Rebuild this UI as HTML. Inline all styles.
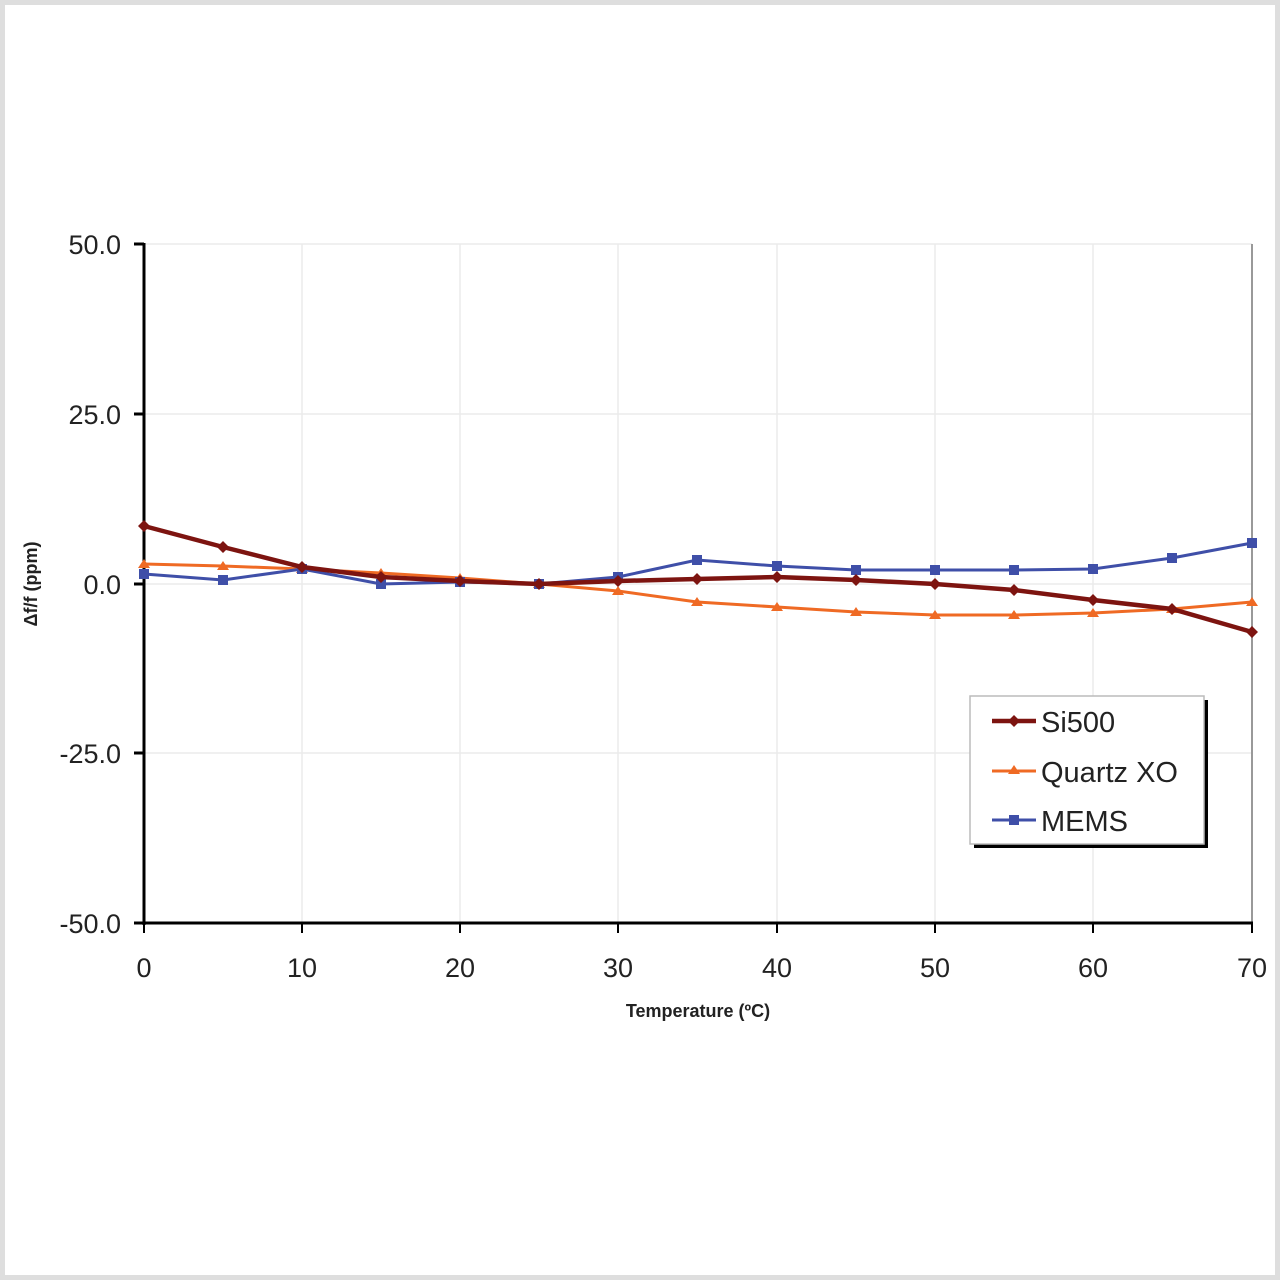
<!DOCTYPE html>
<html><head><meta charset="utf-8"><style>
html,body{margin:0;padding:0;background:#fff}
svg{display:block}
text{font-family:"Liberation Sans",Arial,sans-serif;fill:#222}
</style></head><body>
<svg width="1280" height="1280" viewBox="0 0 1280 1280" xmlns="http://www.w3.org/2000/svg">
<rect x="2.5" y="2.5" width="1275" height="1275" fill="#fff" stroke="#dedede" stroke-width="5"/>
<g stroke="#ebebeb" stroke-width="1.5">
<line x1="302" y1="244" x2="302" y2="923"/><line x1="460" y1="244" x2="460" y2="923"/>
<line x1="618" y1="244" x2="618" y2="923"/><line x1="777" y1="244" x2="777" y2="923"/>
<line x1="935" y1="244" x2="935" y2="923"/><line x1="1093" y1="244" x2="1093" y2="923"/>
<line x1="144" y1="244" x2="1252" y2="244"/><line x1="144" y1="414" x2="1252" y2="414"/>
<line x1="144" y1="584" x2="1252" y2="584"/><line x1="144" y1="753" x2="1252" y2="753"/>
</g>
<line x1="1252" y1="244" x2="1252" y2="923" stroke="#999" stroke-width="2"/>
<g stroke="#000" stroke-width="3">
<line x1="144" y1="243" x2="144" y2="925"/><line x1="143" y1="923" x2="1253" y2="923"/>
<line x1="134" y1="244" x2="144" y2="244"/><line x1="134" y1="414" x2="144" y2="414"/>
<line x1="134" y1="584" x2="144" y2="584"/><line x1="134" y1="753" x2="144" y2="753"/>
<line x1="134" y1="923" x2="144" y2="923"/>
</g>
<g stroke="#000" stroke-width="2">
<line x1="302" y1="923" x2="302" y2="933"/><line x1="460" y1="923" x2="460" y2="933"/><line x1="618" y1="923" x2="618" y2="933"/><line x1="777" y1="923" x2="777" y2="933"/><line x1="935" y1="923" x2="935" y2="933"/><line x1="1093" y1="923" x2="1093" y2="933"/><line x1="1252" y1="923" x2="1252" y2="933"/><line x1="144" y1="923" x2="144" y2="933"/>
</g>
<g font-size="27" text-anchor="end">
<text x="121" y="254">50.0</text><text x="121" y="424">25.0</text><text x="121" y="594">0.0</text><text x="121" y="763">-25.0</text><text x="121" y="933">-50.0</text>
</g>
<g font-size="27" text-anchor="middle">
<text x="144" y="977">0</text><text x="302" y="977">10</text><text x="460" y="977">20</text><text x="618" y="977">30</text><text x="777" y="977">40</text><text x="935" y="977">50</text><text x="1093" y="977">60</text><text x="1252" y="977">70</text>
</g>
<text x="698" y="1017" font-size="18" font-weight="bold" text-anchor="middle">Temperature (ºC)</text>
<text transform="translate(37,584) rotate(-90)" font-size="18" font-weight="bold" text-anchor="middle">Δf/f (ppm)</text>
<polyline fill="none" stroke="#ef6a24" stroke-width="3" points="144,564 223,566 302,569 381,573 460,578 539,584 618,591 697,602 777,607 856,612 935,615 1014,615 1093,613 1172,609 1252,602"/>
<g fill="#ef6a24">
<path d="M144,559l6,9h-12z M223,561l6,9h-12z M302,564l6,9h-12z M381,568l6,9h-12z M460,573l6,9h-12z M539,579l6,9h-12z M618,586l6,9h-12z M697,597l6,9h-12z M777,602l6,9h-12z M856,607l6,9h-12z M935,610l6,9h-12z M1014,610l6,9h-12z M1093,608l6,9h-12z M1172,604l6,9h-12z M1252,597l6,9h-12z"/>
</g>
<polyline fill="none" stroke="#3f4fa8" stroke-width="3" points="144,574 223,580 302,569 381,584 460,582 539,584 618,577 697,560 777,566 856,570 935,570 1014,570 1093,569 1172,558 1252,543"/>
<g fill="#3f4fa8">
<rect x="139" y="569" width="10" height="10"/><rect x="218" y="575" width="10" height="10"/><rect x="297" y="564" width="10" height="10"/><rect x="376" y="579" width="10" height="10"/><rect x="455" y="577" width="10" height="10"/><rect x="534" y="579" width="10" height="10"/><rect x="613" y="572" width="10" height="10"/><rect x="692" y="555" width="10" height="10"/><rect x="772" y="561" width="10" height="10"/><rect x="851" y="565" width="10" height="10"/><rect x="930" y="565" width="10" height="10"/><rect x="1009" y="565" width="10" height="10"/><rect x="1088" y="564" width="10" height="10"/><rect x="1167" y="553" width="10" height="10"/><rect x="1247" y="538" width="10" height="10"/>
</g>
<polyline fill="none" stroke="#7d1410" stroke-width="4.5" points="144,526 223,547 302,567 381,577 460,581 539,584 618,581 697,579 777,577 856,580 935,584 1014,590 1093,600 1172,609 1252,632"/>
<g fill="#7d1410">
<path d="M144,520l6,6-6,6-6-6z M223,541l6,6-6,6-6-6z M302,561l6,6-6,6-6-6z M381,571l6,6-6,6-6-6z M460,575l6,6-6,6-6-6z M539,578l6,6-6,6-6-6z M618,575l6,6-6,6-6-6z M697,573l6,6-6,6-6-6z M777,571l6,6-6,6-6-6z M856,574l6,6-6,6-6-6z M935,578l6,6-6,6-6-6z M1014,584l6,6-6,6-6-6z M1093,594l6,6-6,6-6-6z M1172,603l6,6-6,6-6-6z M1252,626l6,6-6,6-6-6z"/>
</g>
<rect x="974" y="700" width="234" height="148" fill="#000"/>
<rect x="970" y="696" width="234" height="148" fill="#fff" stroke="#bbb" stroke-width="1.5"/>
<line x1="992" y1="721" x2="1036" y2="721" stroke="#7d1410" stroke-width="4.5"/>
<path d="M1014,715l6,6-6,6-6-6z" fill="#7d1410"/>
<line x1="992" y1="771" x2="1036" y2="771" stroke="#ef6a24" stroke-width="3"/>
<path d="M1014,765l6,9h-12z" fill="#ef6a24"/>
<line x1="992" y1="820" x2="1036" y2="820" stroke="#3f4fa8" stroke-width="3"/>
<rect x="1009" y="815" width="10" height="10" fill="#3f4fa8"/>
<g font-size="29">
<text x="1041" y="732">Si500</text><text x="1041" y="782">Quartz XO</text><text x="1041" y="831">MEMS</text>
</g>
</svg>
</body></html>
